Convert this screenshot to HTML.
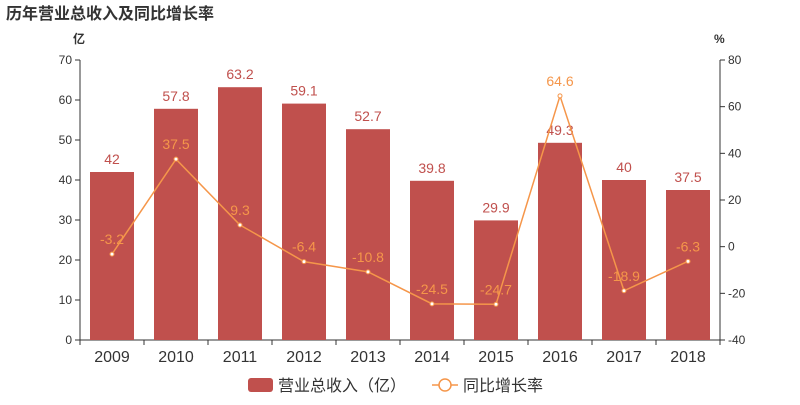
<!DOCTYPE html>
<html><head><meta charset="utf-8"><style>
body{margin:0;background:#fff;}
svg text{font-family:"Liberation Sans","DejaVu Sans","Noto Sans CJK SC",sans-serif;}
</style></head><body>
<svg id="chart" width="800" height="400" xmlns="http://www.w3.org/2000/svg">
<text x="6" y="19" font-size="16" font-weight="bold" fill="#333" style='font-family:"Liberation Sans","Noto Sans CJK SC",sans-serif'>历年营业总收入及同比增长率</text>
<text x="73" y="43" font-size="12" font-weight="bold" fill="#333" style='font-family:"Noto Sans CJK SC",sans-serif'>亿</text>
<text x="714" y="43" font-size="12" font-weight="bold" fill="#333">%</text>
<g id="g"></g>
<g>
<rect x="248" y="378" width="25" height="14" rx="3" fill="#c0504d"/>
<text x="278" y="391" font-size="16" fill="#333" style='font-family:"Noto Sans CJK SC",sans-serif'>营业总收入（亿）</text>
<line x1="432" y1="385" x2="458" y2="385" stroke="#f5964a" stroke-width="1.5"/>
<circle cx="445" cy="385" r="6" fill="#fff" stroke="#f5964a" stroke-width="1.5"/>
<text x="463" y="391" font-size="16" fill="#333" style='font-family:"Noto Sans CJK SC",sans-serif'>同比增长率</text>
</g>
</svg>
<script>
const categories=["2009","2010","2011","2012","2013","2014","2015","2016","2017","2018"];
const revenue=[42,57.8,63.2,59.1,52.7,39.8,29.9,49.3,40,37.5];
const growth=[-3.2,37.5,9.3,-6.4,-10.8,-24.5,-24.7,64.6,-18.9,-6.3];
const leftTicks=[0,10,20,30,40,50,60,70];
const rightTicks=[-40,-20,0,20,40,60,80];
const X0=80,X1=720,Y0=340,Y1=60;
const bw=(X1-X0)/categories.length;
const xc=i=>X0+bw*(i+0.5);
const yL=v=>Y0-(v-0)/(70-0)*(Y0-Y1);
const yR=v=>Y0-(v+40)/(120)*(Y0-Y1);
const NS="http://www.w3.org/2000/svg",g=document.getElementById('g');
function mk(t,a,txt){const e=document.createElementNS(NS,t);for(const k in a)e.setAttribute(k,a[k]);if(txt!==undefined)e.textContent=txt;g.appendChild(e);return e;}
let e;
e=mk('line',{x1:X0,y1:Y1,x2:X0,y2:Y0,stroke:'#333'});


e=mk('line',{x1:X1,y1:Y1,x2:X1,y2:Y0,stroke:'#333'});


e=mk('line',{x1:X0,y1:Y0,x2:X1,y2:Y0,stroke:'#333'});


leftTicks.forEach(v=>{
 e=mk('line',{x1:X0-5,y1:yL(v),x2:X0,y2:yL(v),stroke:'#333'});
 
 
 e=mk('text',{x:X0-8,y:yL(v)+4,'font-size':12,fill:'#333','text-anchor':'end'},v);
 
 
});
rightTicks.forEach(v=>{
 e=mk('line',{x1:X1,y1:yR(v),x2:X1+5,y2:yR(v),stroke:'#333'});
 
 
 e=mk('text',{x:X1+8,y:yR(v)+4,'font-size':12,fill:'#333'},v);
 
 
});
for(let i=0;i<=categories.length;i++){
 e=mk('line',{x1:X0+bw*i,y1:Y0,x2:X0+bw*i,y2:Y0+5,stroke:'#333'});
 
 
}
categories.forEach((c,i)=>{
 e=mk('text',{x:xc(i),y:Y0+22,'font-size':16,fill:'#333','text-anchor':'middle'},c);
 
 
 e=mk('rect',{x:xc(i)-22,y:yL(revenue[i]),width:44,height:Y0-yL(revenue[i]),fill:'#c0504d'});
 
 
 e=mk('text',{x:xc(i),y:yL(revenue[i])-8,'font-size':14,fill:'#c0504d','text-anchor':'middle'},revenue[i]);
 
 
});
e=mk('polyline',{points:growth.map((v,i)=>xc(i)+','+yR(v)).join(' '),fill:'none',stroke:'#f5964a','stroke-width':1.5});


growth.forEach((v,i)=>{
 e=mk('circle',{cx:xc(i),cy:yR(v),r:2,fill:'#fff',stroke:'#f5964a','stroke-width':1});
 
 
 e=mk('text',{x:xc(i),y:yR(v)-10,'font-size':14,fill:'#f5964a','text-anchor':'middle'},v);
 
 
});
</script>
</body></html>
